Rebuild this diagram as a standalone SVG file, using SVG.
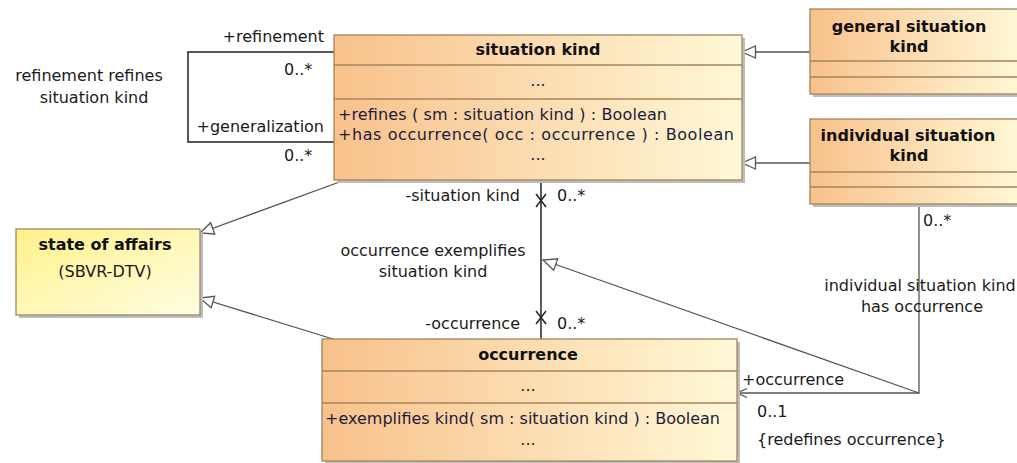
<svg xmlns="http://www.w3.org/2000/svg" width="1017" height="463" viewBox="0 0 1017 463">
<style>
.t{font-family:"DejaVu Sans","Liberation Sans",sans-serif;font-size:16px;fill:#1a1a1a}
.b{font-weight:bold;fill:#111}
.op{fill:#1b1b3c}
.m{text-anchor:middle}
.e{text-anchor:end}
.box{stroke:#a4845e;stroke-width:1.3}
.sh{fill:#bdbdbd}
.dv{stroke:#a4845e;stroke-width:1.3}
.c{fill:none;stroke:#555;stroke-width:1.3}
.a{fill:none;stroke:#222;stroke-width:1.5}
</style>
<defs>
<linearGradient id="gc" x1="0" y1="0" x2="1" y2="0">
<stop offset="0" stop-color="#f8c18b"/>
<stop offset="1" stop-color="#fff8d6"/>
</linearGradient>
<linearGradient id="gy" x1="0" y1="0" x2="1" y2="1">
<stop offset="0" stop-color="#fff28a"/>
<stop offset="1" stop-color="#fffde2"/>
</linearGradient>
<marker id="gen" markerUnits="userSpaceOnUse" markerWidth="18" markerHeight="16" refX="15" refY="8" orient="auto">
<path d="M1.5,2 L15,8 L1.5,14 Z" fill="#fff" stroke="#555" stroke-width="1.3"/>
</marker>
<marker id="open" markerUnits="userSpaceOnUse" markerWidth="14" markerHeight="12" refX="12" refY="6" orient="auto">
<path d="M2,1.5 L12,6 L2,10.5" fill="none" stroke="#555" stroke-width="1.3"/>
</marker>
</defs>

<g id="connectors">
<path class="a" d="M334,52 H188 V142 H334"/>
<path class="c" d="M810,52 H742" marker-end="url(#gen)"/>
<path class="c" d="M810,163 H742" marker-end="url(#gen)"/>
<path class="c" d="M345,180 L200,233" marker-end="url(#gen)"/>
<path class="c" d="M333,339 L200,298" marker-end="url(#gen)"/>
<path class="a" d="M541,180 V339" stroke="#111"/>
<path class="a" d="M536,194 L546,207 M546,194 L536,207"/>
<path class="a" d="M536,311 L546,324 M546,311 L536,324"/>
<path class="c" d="M919,204 V393 H737" marker-end="url(#open)"/>
<path class="c" d="M919,393 L543,260" marker-end="url(#gen)"/>
<text class="t e" x="324" y="42">+refinement</text>
<text class="t" x="284" y="75">0..*</text>
<text class="t e" x="324" y="132">+generalization</text>
<text class="t" x="284" y="161">0..*</text>
<text class="t m" x="89" y="81">refinement refines</text>
<text class="t m" x="94" y="103">situation kind</text>
<text class="t e" x="520" y="201">-situation kind</text>
<text class="t" x="557" y="201">0..*</text>
<text class="t m" x="433" y="256">occurrence exemplifies</text>
<text class="t m" x="433" y="277">situation kind</text>
<text class="t e" x="520" y="329">-occurrence</text>
<text class="t" x="557" y="329">0..*</text>
<text class="t" x="923" y="226">0..*</text>
<text class="t m" x="920" y="291">individual situation kind</text>
<text class="t m" x="922" y="312">has occurrence</text>
<text class="t" x="742" y="385">+occurrence</text>
<text class="t" x="757" y="417">0..1</text>
<text class="t" x="757" y="445">{redefines occurrence}</text>
</g>

<g id="situation-kind">
<rect class="sh" x="337" y="38" width="408" height="145"/>
<rect class="box" x="334" y="35" width="408" height="145" fill="url(#gc)"/>
<line class="dv" x1="334" y1="65" x2="742" y2="65"/>
<line class="dv" x1="334" y1="99" x2="742" y2="99"/>
<text class="t b m" x="538" y="55">situation kind</text>
<text class="t op m" x="538" y="86">...</text>
<text class="t op" x="338" y="120" textLength="329">+refines ( sm : situation kind ) : Boolean</text>
<text class="t op" x="338" y="140" textLength="396">+has occurrence( occ : occurrence ) : Boolean</text>
<text class="t op m" x="538" y="160">...</text>
</g>

<g id="general-situation-kind">
<rect class="sh" x="813" y="12" width="210" height="85"/>
<rect class="box" x="810" y="9" width="210" height="85" fill="url(#gc)"/>
<line class="dv" x1="810" y1="61" x2="1020" y2="61"/>
<line class="dv" x1="810" y1="77" x2="1020" y2="77"/>
<text class="t b m" x="909" y="32">general situation</text>
<text class="t b m" x="909" y="52">kind</text>
</g>

<g id="individual-situation-kind">
<rect class="sh" x="813" y="122" width="210" height="85"/>
<rect class="box" x="810" y="119" width="210" height="85" fill="url(#gc)"/>
<line class="dv" x1="810" y1="172" x2="1020" y2="172"/>
<line class="dv" x1="810" y1="187" x2="1020" y2="187"/>
<text class="t b m" x="908" y="141">individual situation</text>
<text class="t b m" x="909" y="161">kind</text>
</g>

<g id="state-of-affairs">
<rect class="sh" x="19" y="232" width="184" height="86"/>
<rect class="box" x="16" y="229" width="184" height="86" fill="url(#gy)"/>
<text class="t b m" x="105" y="250">state of affairs</text>
<text class="t m" x="105" y="277">(SBVR-DTV)</text>
</g>

<g id="occurrence">
<rect class="sh" x="325" y="342" width="415" height="122"/>
<rect class="box" x="322" y="339" width="415" height="122" fill="url(#gc)"/>
<line class="dv" x1="322" y1="371" x2="737" y2="371"/>
<line class="dv" x1="322" y1="403" x2="737" y2="403"/>
<text class="t b m" x="528" y="360">occurrence</text>
<text class="t op m" x="528" y="391">...</text>
<text class="t op" x="325" y="424">+exemplifies kind( sm : situation kind ) : Boolean</text>
<text class="t op m" x="528" y="445">...</text>
</g>
</svg>
